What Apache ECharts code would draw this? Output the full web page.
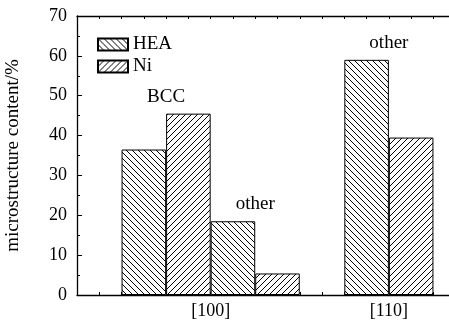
<!DOCTYPE html>
<html>
<head>
<meta charset="utf-8">
<script src="https://cdn.jsdelivr.net/npm/echarts@6/dist/echarts.min.js"></script>
<style>
  html, body { margin: 0; padding: 0; background: #fff; }
  #chart { width: 449px; height: 322px; }
</style>
</head>
<body>
<div id="chart"></div>
<script>
// Orientation groups and the bar pairs (HEA / Ni) inside each group
const groupNames = ['[100]', '[110]'];
const pairGroup = [0, 0, 1];
const pairPhase = ['BCC', 'other', 'other'];
const heaValues = [36.5, 18.5, 59.0];
const niValues = [45.5, 5.4, 39.5];
const seriesNames = ['HEA', 'Ni'];
const yMin = 0, yMax = 70, yStep = 10;

const FONT = 'Liberation Serif';

// Diagonal hatch tile: 'back' = \\\ , 'fwd' = ///
function hatch(dir) {
  const s = 6;
  const c = document.createElement('canvas');
  c.width = s; c.height = s;
  const ctx = c.getContext('2d');
  ctx.fillStyle = '#fff';
  ctx.fillRect(0, 0, s, s);
  ctx.strokeStyle = '#000';
  ctx.lineWidth = 1;
  ctx.beginPath();
  for (const o of [-s, 0, s]) {
    if (dir === 'back') { ctx.moveTo(o, 0); ctx.lineTo(o + s, s); }
    else { ctx.moveTo(o, s); ctx.lineTo(o + s, 0); }
  }
  ctx.stroke();
  return c;
}

// Slot layout: each pair takes two slots, groups are separated by one empty slot
const pairSlot = [];
const groupSpan = {};
let slot = 0, prev = null;
pairGroup.forEach((g) => {
  if (prev !== null && g !== prev) slot += 1;
  pairSlot.push(slot);
  if (!groupSpan[g]) groupSpan[g] = [slot, slot + 2];
  groupSpan[g][1] = slot + 2;
  slot += 2;
  prev = g;
});
const xMin = -1, xMax = slot + 1;
const groupCenter = {};
Object.keys(groupSpan).forEach((g) => {
  groupCenter[(groupSpan[g][0] + groupSpan[g][1]) / 2] = groupNames[g];
});

const heaData = heaValues.map((v, i) => [pairSlot[i] + 0.5, v]);
const niData = niValues.map((v, i) => [pairSlot[i] + 1.5, v]);
const noteData = pairPhase.map((p, i) => ({
  name: p,
  value: [pairSlot[i] + 1, Math.max(heaValues[i], niValues[i])]
}));

const axisLine = { show: true, onZero: false, lineStyle: { color: '#000', width: 1.3 } };

const chart = echarts.init(document.getElementById('chart'), null, { renderer: 'canvas' });

const option = {
  animation: false,
  backgroundColor: '#fff',
  grid: { left: 77, top: 16, bottom: 27, right: -29, containLabel: false, outerBoundsMode: 'none' },
  legend: {
    data: seriesNames,
    orient: 'vertical',
    left: 92,
    top: 30,
    icon: 'rect',
    itemWidth: 30,
    itemHeight: 12,
    itemGap: 3,
    textStyle: { fontFamily: FONT, fontSize: 19, color: '#000' }
  },
  xAxis: [
    {
      type: 'value', position: 'bottom', min: xMin, max: xMax, interval: 0.5,
      axisLine, splitLine: { show: false },
      axisTick: { show: true, inside: true, length: 3, lineStyle: { color: '#000' } },
      axisLabel: {
        margin: 7, fontFamily: FONT, fontSize: 18, color: '#000',
        formatter: (v) => groupCenter[v] || ''
      }
    },
    {
      type: 'value', position: 'top', min: xMin, max: xMax, interval: 0.5,
      axisLine, splitLine: { show: false },
      axisTick: { show: true, inside: true, length: 3, lineStyle: { color: '#000' } },
      axisLabel: { show: false }
    }
  ],
  yAxis: {
    type: 'value', min: yMin, max: yMax, interval: yStep,
    name: 'microstructure content/%',
    nameLocation: 'middle', nameGap: 54,
    nameTextStyle: { fontFamily: FONT, fontSize: 19, color: '#000' },
    axisLine, splitLine: { show: false },
    axisTick: { show: true, inside: true, length: 5, lineStyle: { color: '#000' } },
    minorTick: { show: true, splitNumber: 2, length: 3, lineStyle: { color: '#000' } },
    axisLabel: { margin: 10, fontFamily: FONT, fontSize: 18, color: '#000' }
  },
  series: [
    {
      name: seriesNames[0], type: 'bar', data: heaData, barGap: '-100%',
      itemStyle: { color: { image: hatch('back'), repeat: 'repeat' }, borderColor: '#000', borderWidth: 1 }
    },
    {
      name: seriesNames[1], type: 'bar', data: niData, barGap: '-100%',
      itemStyle: { color: { image: hatch('fwd'), repeat: 'repeat' }, borderColor: '#000', borderWidth: 1 }
    },
    {
      name: 'phase', type: 'scatter', data: noteData, symbolSize: 1,
      itemStyle: { color: 'rgba(0,0,0,0)', opacity: 1 }, silent: true,
      label: {
        show: true, position: 'top', distance: 7,
        formatter: (p) => p.name,
        fontFamily: FONT, fontSize: 19, color: '#000', opacity: 1
      }
    }
  ]
};

chart.setOption(option);

// One slot on the x axis equals one bar width
const slotPx = chart.convertToPixel({ xAxisIndex: 0 }, 1) - chart.convertToPixel({ xAxisIndex: 0 }, 0);
chart.setOption({ series: [{ barWidth: slotPx }, { barWidth: slotPx }] });
</script>
</body>
</html>
